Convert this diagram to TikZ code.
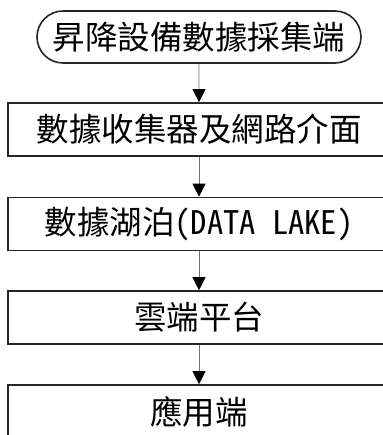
\documentclass[tikz,border=0pt]{standalone}
\usepackage{fontspec}
\newfontfamily\cjk{Noto Sans CJK TC}
\newfontfamily\cjkhalf[CharacterWidth=Half]{Noto Sans CJK TC}
\usetikzlibrary{arrows.meta,shapes.misc}
\tikzset{
  startbox/.style={rounded rectangle, draw=black!85, line width=1.6pt,
    minimum width=324pt, minimum height=52pt, inner sep=0pt,
    font=\cjk\fontsize{32.5}{32.5}\selectfont},
  stepbox/.style={rectangle, draw=black!85, line width=1.6pt,
    minimum width=382pt, minimum height=53pt, inner sep=0pt,
    font=\cjk\fontsize{32.5}{32.5}\selectfont},
  flow/.style={draw=black!55, line width=0.7pt,
    -{Triangle[width=13pt,length=13pt,black]}}
}
\begin{document}
\begin{tikzpicture}[x=1pt,y=-1pt]
        \useasboundingbox (0,0) rectangle (382,435);

        \node[startbox] (src) at (199,37) {昇降設備數據採集端};
        \node[stepbox] (coll) at (199,129.5) {數據收集器及網路介面};
        \node[stepbox] (lake) at (199,224) {數據湖泊{\cjkhalf(DATA LAKE)}};
        \node[stepbox] (cloud) at (199,317.5) {雲端平台};
        \node[stepbox] (app) at (199,411.5) {應用端};

        \draw[flow] (src) -- (coll);
        \draw[flow] (coll) -- (lake);
        \draw[flow] (lake) -- (cloud);
        \draw[flow] (cloud) -- (app);
\end{tikzpicture}
\end{document}
